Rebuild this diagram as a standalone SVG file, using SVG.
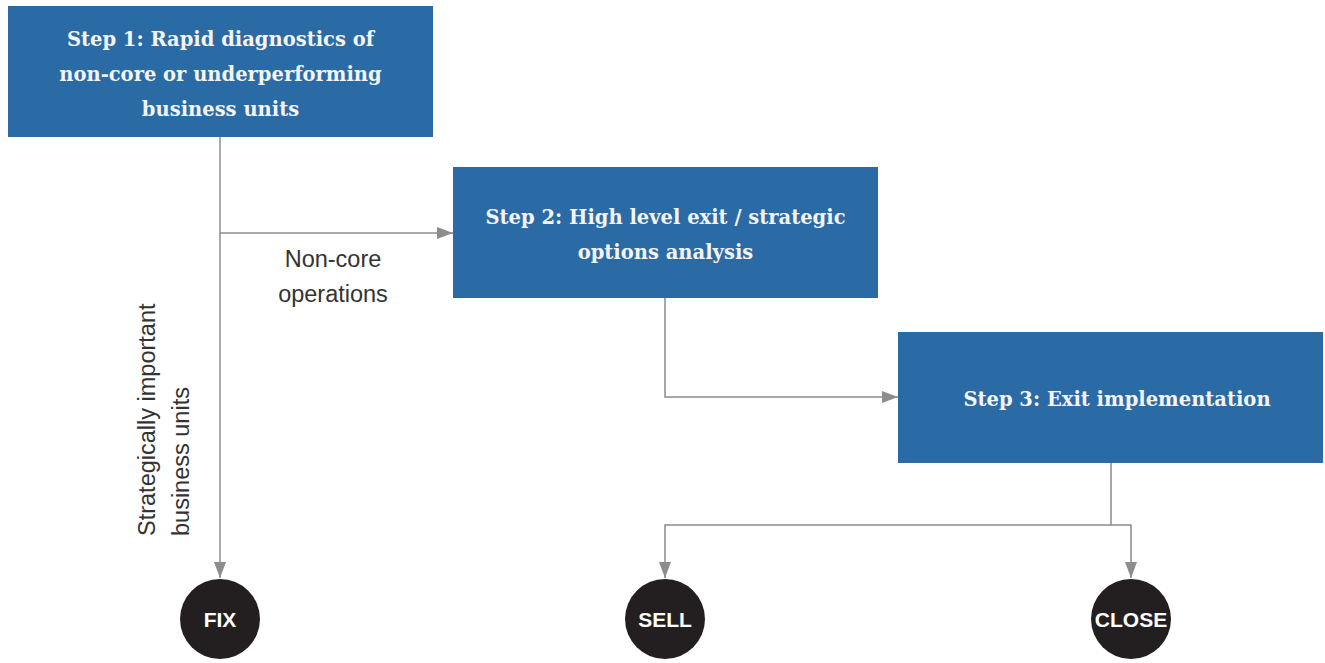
<svg xmlns="http://www.w3.org/2000/svg" width="1325" height="663" viewBox="0 0 1325 663">
<style>
.box{fill:#2a6ba6}
.bt{font-family:"DejaVu Serif","Liberation Serif",serif;font-weight:bold;font-size:19.5px;fill:#f4f4f4;text-anchor:middle}
.lbl{font-family:"Liberation Sans",Arial,sans-serif;font-size:23.5px;fill:#333}
.circ{fill:#231f20}
.ct{font-family:"Liberation Sans",Arial,sans-serif;font-weight:bold;font-size:21px;fill:#fff;text-anchor:middle}
.con{fill:none;stroke:#8c8c8c;stroke-width:1.5}
</style>
<defs>
<marker id="ahl" markerWidth="16" markerHeight="12" refX="16" refY="6" orient="auto" markerUnits="userSpaceOnUse" viewBox="0 0 16 12">
<path d="M0,0 L16,6 L0,12 Z" fill="#8c8c8c"/>
</marker>
</defs>
<rect width="1325" height="663" fill="#fff"/>
<g id="connectors">
<path class="con" d="M220,137 V578" marker-end="url(#ahl)"/>
<path class="con" d="M220,233 H453" marker-end="url(#ahl)"/>
<path class="con" d="M665,298 V397 H898" marker-end="url(#ahl)"/>
<path class="con" d="M1111,463 V525 H665 V578" marker-end="url(#ahl)"/>
<path class="con" d="M1111,525 H1131 V578" marker-end="url(#ahl)"/>
</g>
<g id="step1">
<rect class="box" x="8" y="6" width="425" height="131"/>
<text class="bt" x="220.5" y="46">Step 1: Rapid diagnostics of</text>
<text class="bt" x="220.5" y="81">non-core or underperforming</text>
<text class="bt" x="220.5" y="116">business units</text>
</g>
<g id="step2">
<rect class="box" x="453" y="167" width="425" height="131"/>
<text class="bt" x="665.5" y="224">Step 2: High level exit / strategic</text>
<text class="bt" x="665.5" y="259">options analysis</text>
</g>
<g id="step3">
<rect class="box" x="898" y="332" width="425" height="131"/>
<text class="bt" x="1117" y="406">Step 3: Exit implementation</text>
</g>
<g id="label-noncore">
<text class="lbl" x="333" y="267" text-anchor="middle">Non-core</text>
<text class="lbl" x="333" y="302" text-anchor="middle">operations</text>
</g>
<g id="label-strategic">
<text class="lbl" transform="translate(155,536) rotate(-90)">Strategically important</text>
<text class="lbl" transform="translate(189,536) rotate(-90)">business units</text>
</g>
<g id="fix">
<circle class="circ" cx="220" cy="619" r="40"/>
<text class="ct" x="220" y="627">FIX</text>
</g>
<g id="sell">
<circle class="circ" cx="665" cy="619" r="40"/>
<text class="ct" x="665" y="627">SELL</text>
</g>
<g id="close">
<circle class="circ" cx="1131" cy="619" r="40"/>
<text class="ct" x="1131" y="627">CLOSE</text>
</g>
</svg>
